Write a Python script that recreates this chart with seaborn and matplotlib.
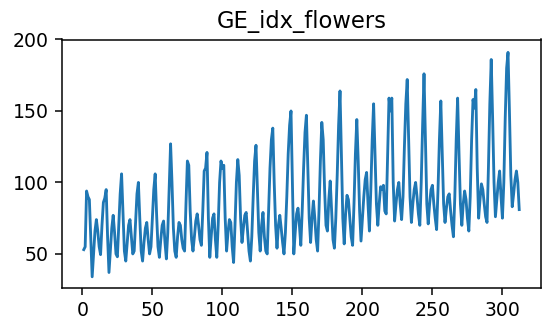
import matplotlib
matplotlib.use("Agg")
import matplotlib.pyplot as plt
import seaborn as sns
import numpy as np
import pandas as pd

title = "GE_idx_flowers"

values = [
    53, 55, 94, 90, 88, 60, 34, 50, 66, 74, 66, 55,
    49.5, 70, 86, 89, 95, 62, 37, 52, 68, 77, 65, 50,
    48, 70, 92, 106, 80, 52, 45, 58, 70, 74, 62, 50,
    52, 72, 92, 100, 75, 52, 45, 58, 68, 72, 60, 50,
    55, 75, 95, 106, 78, 55, 47.6, 60, 70, 73, 58, 46.5,
    65, 95, 127, 100, 68, 52, 47.6, 62, 72, 70, 60, 54,
    52, 85, 115, 112, 80, 60, 52, 62, 73, 78, 70, 60,
    56, 80, 108, 110, 121, 75, 47.6, 62, 75, 78, 60, 47.6,
    70, 100, 115, 110, 112, 75, 52, 65, 74, 72, 55, 44,
    70, 100, 116, 105, 75, 58, 68, 77, 79, 65, 52, 45,
    62, 90, 115, 126, 95, 65, 52, 70, 79, 62, 52, 50,
    80, 110, 130, 138, 100, 70, 54, 70, 77, 68, 58, 50,
    65, 90, 120, 140, 150, 100, 50, 65, 78, 82, 70, 56,
    80, 110, 135, 147, 110, 75, 58, 75, 87, 75, 60, 52,
    80, 115, 142, 130, 95, 70, 66, 88, 101, 80, 60, 54,
    75, 105, 140, 164, 120, 75, 57, 78, 91, 88, 75, 62,
    56, 85, 120, 144, 115, 80, 59, 75, 90, 102, 107, 85,
    66, 95, 130, 155, 120, 85, 70, 85, 97, 95, 98, 80,
    78, 120, 159, 150, 159, 100, 73, 85, 95, 100, 85, 74,
    90, 125, 155, 172, 130, 90, 72, 85, 95, 100, 90, 78,
    70, 100, 140, 176, 130, 85, 71, 85, 95, 98, 85, 75,
    67, 95, 130, 157, 120, 85, 72, 82, 90, 92, 80, 70,
    62, 90, 130, 159, 120, 85, 70, 85, 94, 88, 75, 66,
    90, 130, 158, 152, 165, 110, 75, 88, 99, 95, 85, 76,
    72, 110, 155, 186, 145, 100, 76, 88, 100, 108, 90, 75,
    100, 145, 180, 191, 150, 105, 83, 92, 102, 108, 100, 81,
]
index = list(range(1, len(values) + 1))

df = pd.DataFrame({"t": index, "v": values})

dpi = 136
fig = plt.figure(figsize=(545 / dpi, 324 / dpi), dpi=dpi)
ax = fig.add_axes([62 / 545, 1 - 288 / 324, (541 - 62) / 545, (288 - 39.5) / 324])
sns.lineplot(data=df, x="t", y="v", ax=ax, color="#1f77b4", linewidth=1.5)
ax.set_xlabel("")
ax.set_ylabel("")
ax.set_title(title, fontsize=12)
ax.set_xticks([0, 50, 100, 150, 200, 250, 300])
ax.set_yticks([50, 100, 150, 200])
fig.savefig("out.png", dpi=dpi)
